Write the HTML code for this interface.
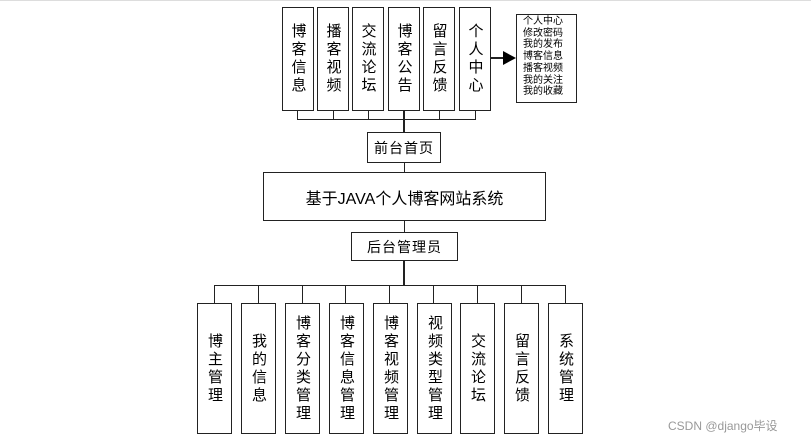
<!DOCTYPE html>
<html><head><meta charset="utf-8"><style>
body{margin:0;background:#fff;}
.b{position:absolute;border:1.5px solid #222;background:#fff;box-sizing:border-box;font-family:"Liberation Sans","Noto Sans CJK SC",sans-serif;color:#000;}
.v{writing-mode:vertical-rl;text-orientation:upright;display:flex;align-items:center;justify-content:center;font-size:15px;letter-spacing:3px;}
.l{position:absolute;background:#222;}
</style></head><body>
<div style="position:relative;width:811px;height:444px;overflow:hidden">
<div class="l" style="left:0;top:0;width:811px;height:1px;background:#ddd"></div>
<div class="b v" style="left:282px;top:7px;width:32px;height:104px">博客信息</div>
<div class="b v" style="left:317px;top:7px;width:32px;height:104px">播客视频</div>
<div class="b v" style="left:352px;top:7px;width:32px;height:104px">交流论坛</div>
<div class="b v" style="left:388px;top:7px;width:32px;height:104px">博客公告</div>
<div class="b v" style="left:423px;top:7px;width:32px;height:104px">留言反馈</div>
<div class="b v" style="left:459px;top:7px;width:32px;height:104px">个人中心</div>
<div class="l" style="left:297px;top:110px;width:1px;height:9px"></div>
<div class="l" style="left:333px;top:110px;width:1px;height:9px"></div>
<div class="l" style="left:368px;top:110px;width:1px;height:9px"></div>
<div class="l" style="left:439px;top:110px;width:1px;height:9px"></div>
<div class="l" style="left:475px;top:110px;width:1px;height:9px"></div>
<div class="l" style="left:297px;top:119px;width:179px;height:1px"></div>
<div class="l" style="left:403px;top:110px;width:2px;height:22px"></div>
<div class="l" style="left:491px;top:57px;width:14px;height:2px"></div>
<svg style="position:absolute;left:503px;top:51px" width="14" height="14"><polygon points="0,0 13,7 0,14" fill="#000"/></svg>
<div class="b" style="left:516px;top:14px;width:61px;height:89px;font-size:10px;line-height:11.7px;padding:1px 0 0 6px">个人中心<br>修改密码<br>我的发布<br>博客信息<br>播客视频<br>我的关注<br>我的收藏</div>
<div class="b" style="left:367px;top:132px;width:74px;height:31px;display:flex;align-items:center;justify-content:center;font-size:14px;letter-spacing:1px">前台首页</div>
<div class="l" style="left:404px;top:162px;width:1px;height:10px"></div>
<div class="b" style="left:263px;top:172px;width:283px;height:49px;display:flex;align-items:center;justify-content:center;font-size:16px">基于JAVA个人博客网站系统</div>
<div class="l" style="left:404px;top:220px;width:1px;height:12px"></div>
<div class="b" style="left:351px;top:232px;width:107px;height:29px;display:flex;align-items:center;justify-content:center;font-size:14px;letter-spacing:1px">后台管理员</div>
<div class="l" style="left:403px;top:260px;width:2px;height:25px"></div>
<div class="l" style="left:214px;top:285px;width:352px;height:1px"></div>
<div class="l" style="left:214px;top:285px;width:1px;height:18px"></div>
<div class="l" style="left:258px;top:285px;width:1px;height:18px"></div>
<div class="l" style="left:302px;top:285px;width:1px;height:18px"></div>
<div class="l" style="left:345px;top:285px;width:1px;height:18px"></div>
<div class="l" style="left:389px;top:285px;width:1px;height:18px"></div>
<div class="l" style="left:433px;top:285px;width:1px;height:18px"></div>
<div class="l" style="left:477px;top:285px;width:1px;height:18px"></div>
<div class="l" style="left:521px;top:285px;width:1px;height:18px"></div>
<div class="l" style="left:565px;top:285px;width:1px;height:18px"></div>
<div class="b v" style="left:197px;top:303px;width:35px;height:131px">博主管理</div>
<div class="b v" style="left:241px;top:303px;width:35px;height:131px">我的信息</div>
<div class="b v" style="left:285px;top:303px;width:35px;height:131px">博客分类管理</div>
<div class="b v" style="left:329px;top:303px;width:35px;height:131px">博客信息管理</div>
<div class="b v" style="left:373px;top:303px;width:35px;height:131px">博客视频管理</div>
<div class="b v" style="left:417px;top:303px;width:35px;height:131px">视频类型管理</div>
<div class="b v" style="left:460px;top:303px;width:35px;height:131px">交流论坛</div>
<div class="b v" style="left:504px;top:303px;width:35px;height:131px">留言反馈</div>
<div class="b v" style="left:548px;top:303px;width:35px;height:131px">系统管理</div>
<div style="position:absolute;left:668px;top:417px;font-family:'Liberation Sans','Noto Sans CJK SC',sans-serif;font-size:12px;color:#999">CSDN @django毕设</div>
</div>
</body></html>
